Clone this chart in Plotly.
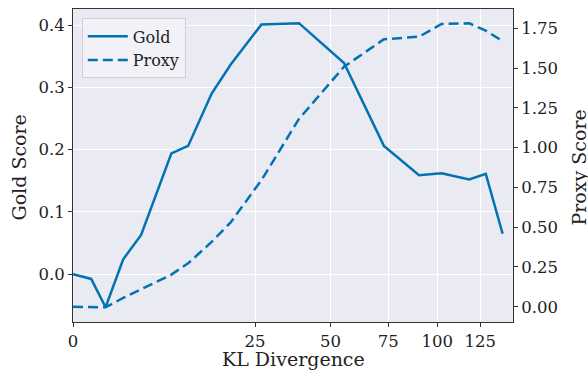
import numpy as np
import plotly.graph_objects as go

kl = [0, 0.25, 0.8, 1.9, 3.5, 7.3, 10.0, 14.5, 18.8, 26.8, 38.5, 55.4, 72.9, 90.3, 102.4, 118.4, 128.5, 139.2]
gold = [0.0, -0.0075, -0.053, 0.024, 0.063, 0.194, 0.206, 0.290, 0.337, 0.401, 0.403, 0.339,
        0.206, 0.159, 0.162, 0.152, 0.161, 0.065]
proxy = [0.0, 0.0, -0.004, 0.055, 0.111, 0.202, 0.273, 0.407, 0.532, 0.796, 1.180, 1.508,
         1.681, 1.697, 1.777, 1.781, 1.735, 1.669]
x_ticks = [0, 25, 50, 75, 100, 125]
gold_ticks = [0.0, 0.1, 0.2, 0.3, 0.4]
proxy_ticks = [0.0, 0.25, 0.5, 0.75, 1.0, 1.25, 1.5, 1.75]

COLOR = "#0173B2"
FONT = "DejaVu Serif"
x = np.sqrt(np.array(kl))

fig = go.Figure()
fig.add_trace(go.Scatter(x=x, y=gold, mode="lines", name="Gold",
                         line=dict(color=COLOR, width=2.5)))
fig.add_trace(go.Scatter(x=x, y=proxy, mode="lines", name="Proxy", yaxis="y2",
                         line=dict(color=COLOR, width=2.5, dash="10px,5px")))

axcol = "#333333"
txtcol = "#222222"
tickfont = dict(family=FONT, size=16.5, color=txtcol)
titlefont = dict(family=FONT, size=19, color=txtcol)
fig.update_layout(
    width=588, height=370,
    margin=dict(l=73, r=75, t=9, b=48, autoexpand=False),
    paper_bgcolor="white", plot_bgcolor="#EAEAF2",
    font=dict(family=FONT, size=16, color=txtcol),
    showlegend=True,
    legend=dict(x=0.02, y=0.97, xanchor="left", yanchor="top",
                bgcolor="rgba(242,242,247,0.9)", bordercolor="#D0D0D8", borderwidth=1,
                itemwidth=40, font=dict(size=16)),
    xaxis=dict(range=[0, np.sqrt(146)], tickvals=list(np.sqrt(x_ticks)),
               ticktext=[str(t) for t in x_ticks], tickfont=tickfont, automargin=False,
               showgrid=True, gridcolor="white", gridwidth=1,
               showline=True, linecolor=axcol, linewidth=1, mirror=True,
               ticks="outside", ticklen=4, tickcolor=axcol, zeroline=False),
    yaxis=dict(range=[-0.0766, 0.4257], tickvals=gold_ticks, tickformat=".1f",
               tickfont=tickfont, automargin=False,
               showgrid=True, gridcolor="white", gridwidth=1,
               showline=True, linecolor=axcol, linewidth=1,
               ticks="outside", ticklen=4, tickcolor=axcol, zeroline=False),
    yaxis2=dict(range=[-0.096, 1.871], tickvals=proxy_ticks, tickformat=".2f",
                tickfont=tickfont, automargin=False,
                overlaying="y", side="right", showgrid=False,
                showline=True, linecolor=axcol, linewidth=1,
                ticks="outside", ticklen=4, tickcolor=axcol, zeroline=False),
    annotations=[
        dict(text="KL Divergence", xref="paper", yref="paper", x=0.5, y=0,
             xanchor="center", yanchor="middle", yshift=-37, showarrow=False,
             font=titlefont),
        dict(text="Gold Score", xref="paper", yref="paper", x=0, y=0.5,
             xanchor="center", yanchor="middle", xshift=-55, yshift=-2, textangle=-90,
             showarrow=False, font=titlefont),
        dict(text="Proxy Score", xref="paper", yref="paper", x=1, y=0.5,
             xanchor="center", yanchor="middle", xshift=65, yshift=-2, textangle=-90,
             showarrow=False, font=titlefont),
    ],
)

fig.write_html("out.html")
